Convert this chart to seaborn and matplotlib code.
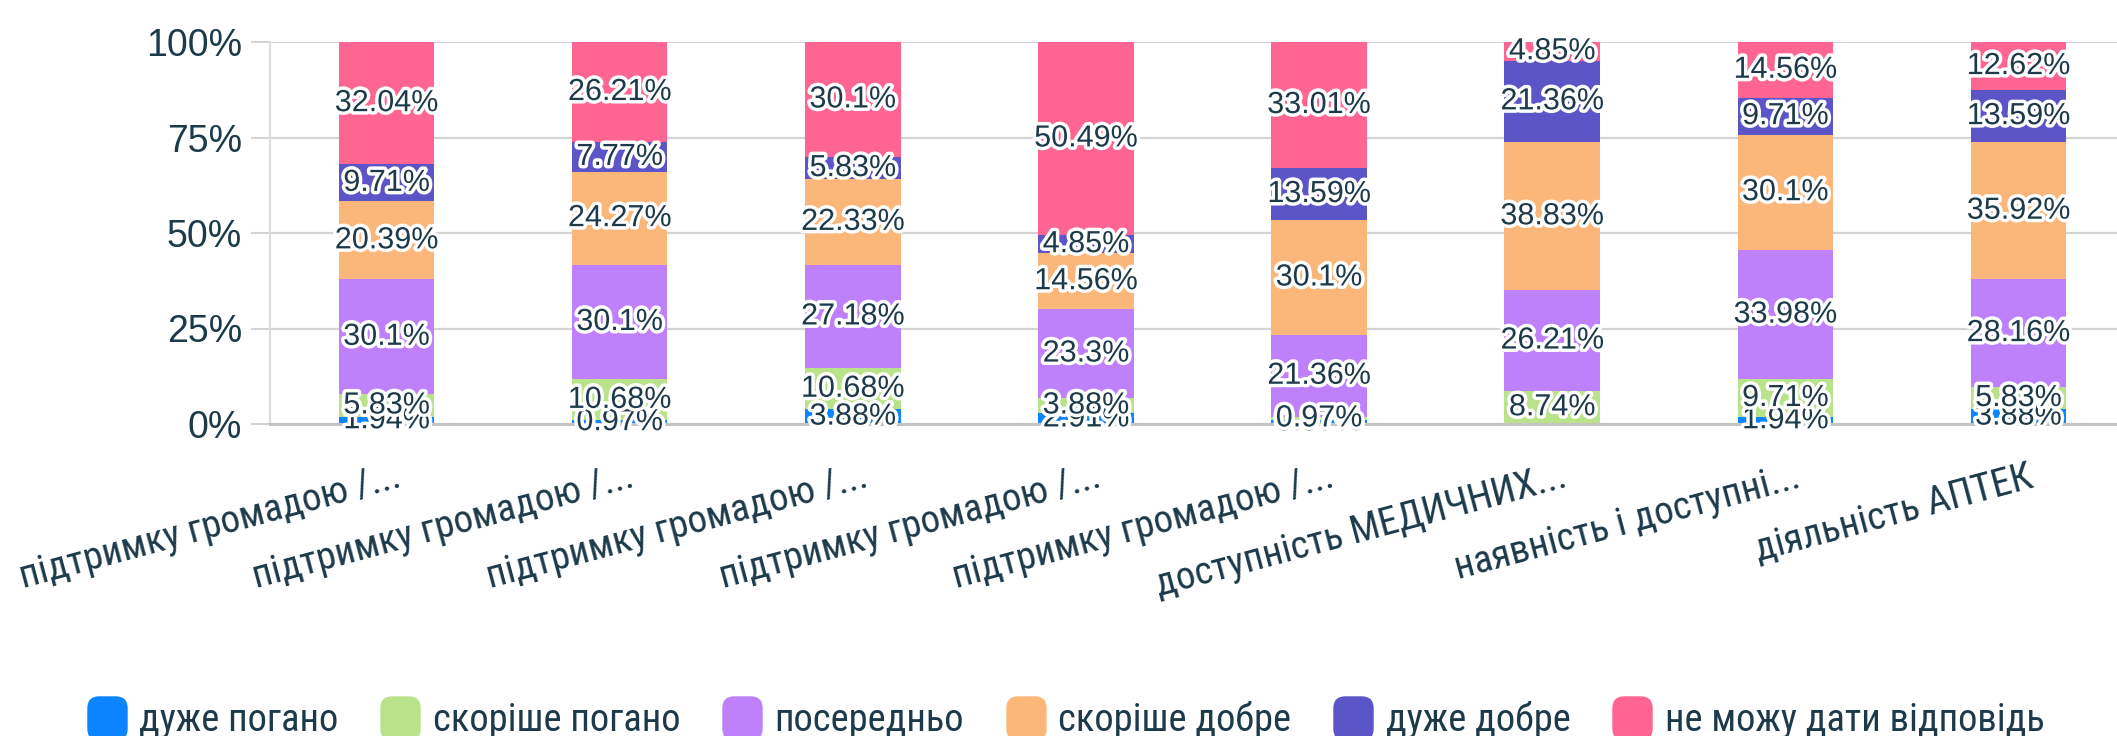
import numpy as np
import matplotlib
matplotlib.use("Agg")
import matplotlib.pyplot as plt
import matplotlib.patheffects as pe
import matplotlib.transforms as mtransforms
from matplotlib.lines import Line2D
from matplotlib.patches import FancyBboxPatch
from matplotlib.path import Path
from matplotlib import font_manager
import seaborn as sns

# дані з діаграми
questions = ["підтримку громадою /...", "підтримку громадою /...", "підтримку громадою /...",
             "підтримку громадою /...", "підтримку громадою /...", "доступність МЕДИЧНИХ...",
             "наявність і доступні...", "діяльність АПТЕК"]
answers = ["дуже погано", "скоріше погано", "посередньо", "скоріше добре", "дуже добре",
           "не можу дати відповідь"]
colors = ["#0a84ff", "#b9e38a", "#bf80fb", "#fbb679", "#5b55c8", "#ff6592"]

very_bad = [1.94, 0.97, 3.88, 2.91, 0.97, 0, 1.94, 3.88]
rather_bad = [5.83, 10.68, 10.68, 3.88, 0.97, 8.74, 9.71, 5.83]
average = [30.1, 30.1, 27.18, 23.3, 21.36, 26.21, 33.98, 28.16]
rather_good = [20.39, 24.27, 22.33, 14.56, 30.1, 38.83, 30.1, 35.92]
very_good = [9.71, 7.77, 5.83, 4.85, 13.59, 21.36, 9.71, 13.59]
no_answer = [32.04, 26.21, 30.1, 50.49, 33.01, 4.85, 14.56, 12.62]
series = [very_bad, rather_bad, average, rather_good, very_good, no_answer]

yticks = [0, 25, 50, 75, 100]
ytick_labels = ["0%", "25%", "50%", "75%", "100%"]

text_color = "#1d3a4b"

sns.set_theme(style="white")
plt.rcParams['font.family'] = ['Liberation Sans', 'DejaVu Sans']

# вузький шрифт для підписів осі x та легенди, якщо є
installed = {f.name for f in font_manager.fontManager.ttflist}
narrow = [f for f in ['Liberation Sans Narrow', 'Roboto Condensed', 'Roboto'] if f in installed]
narrow += ['Liberation Sans', 'DejaVu Sans']

fig = plt.figure(figsize=(21.17, 7.36), dpi=100)
ax = fig.add_axes([270 / 2117, 312 / 736, (2135 - 270) / 2117, 382 / 736])

x = np.arange(len(questions))
bottom = np.zeros(len(questions))
for name, vals, c in zip(answers, series, colors):
    vals = np.array(vals, dtype=float)
    sns.barplot(x=x, y=vals, bottom=bottom, color=c, width=0.41, saturation=1,
                errorbar=None, ax=ax, zorder=2, linewidth=0, edgecolor='none')
    labels = [f"{v:g}%" if v > 0 else "" for v in vals]
    ax.bar_label(ax.containers[-1], labels=labels, label_type='center', fontsize=22,
                 color=text_color, zorder=4,
                 path_effects=[pe.withStroke(linewidth=5, foreground='white')])
    bottom += vals

ax.set_xlim(-0.5, len(questions) - 0.5)
ax.set_ylim(0, 100)
ax.set_yticks(yticks, ytick_labels, fontsize=27, color=text_color)
ax.yaxis.grid(True, color='#d4d4d4', linewidth=1.6)
ax.set_axisbelow(True)
for s in ['top', 'right']:
    ax.spines[s].set_visible(False)
ax.spines['left'].set_color('#dddddd')
ax.spines['left'].set_linewidth(1.5)
ax.spines['bottom'].set_color('#c4c4c4')
ax.spines['bottom'].set_linewidth(2.2)
ax.tick_params(axis='y', length=14, width=1.5, color='#d4d4d4', pad=6, left=True)
ax.tick_params(axis='x', length=0, pad=25)
ax.set_xlabel("")
ax.set_ylabel("")

ax.set_xticks(x, questions, rotation=15, ha='right', rotation_mode='anchor',
              fontsize=28, color=text_color, family=narrow)
offset = mtransforms.ScaledTranslation(9 / 100, 0, fig.dpi_scale_trans)
for lab in ax.get_xticklabels():
    lab.set_transform(lab.get_transform() + offset)

# легенда з заокругленими маркерами
box = FancyBboxPatch((-0.5, -0.55), 1, 1.1, boxstyle='round,pad=0,rounding_size=0.3')
bp = box.get_path()
marker_path = Path(bp.vertices, bp.codes)
handles = [Line2D([], [], ls='', marker=marker_path, markersize=32, color=c,
                  markeredgewidth=0) for c in colors]
fig.legend(handles, answers, loc='center', bbox_to_anchor=(0.503, 16 / 736), ncol=6,
           frameon=False, handlelength=1.1, handletextpad=0.3, columnspacing=1.05,
           prop={'family': narrow, 'size': 27.7}, labelcolor=text_color)

fig.savefig("out.png", dpi=100)
